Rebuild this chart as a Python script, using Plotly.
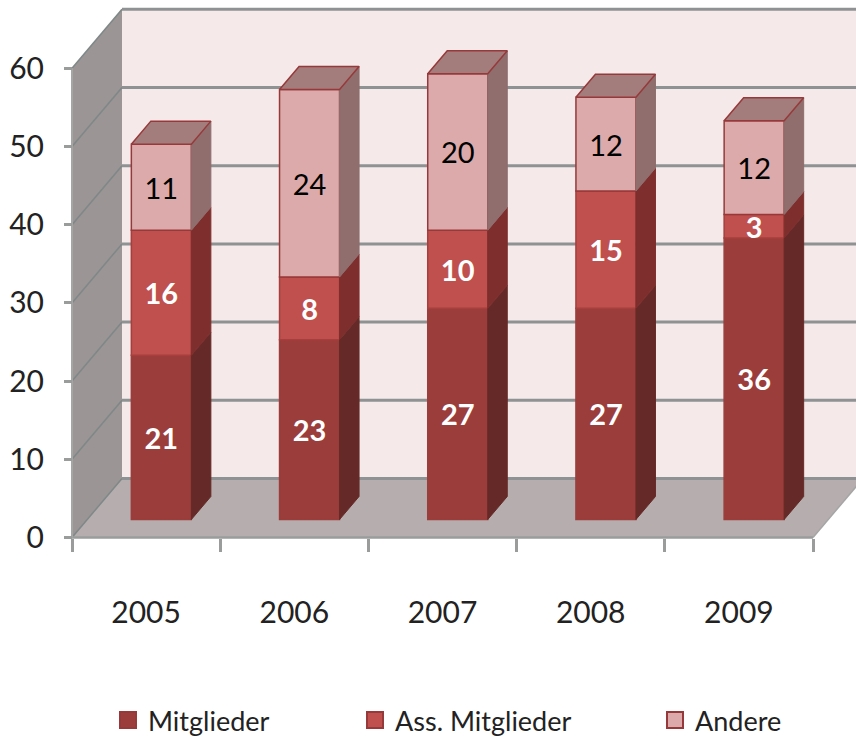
import plotly.graph_objects as go

years = ["2005", "2006", "2007", "2008", "2009"]
mitglieder = [21, 23, 27, 27, 36]
ass_mitglieder = [16, 8, 10, 15, 3]
andere = [11, 24, 20, 12, 12]
y_ticks = [0, 10, 20, 30, 40, 50, 60]

W, H = 856, 745
X0, Y0 = 72, 537.5      # pixel of the front origin
PX_X, PX_Y = 148.2, 7.82
DX, DY = 50 / PX_X, 59 / PX_Y   # full depth in data units
Z_FRONT, Z_BACK = 0.305, 0.695
BAR_W = 0.405
XMAX = len(years)
YMAX = 60
FONT = "Lato"


def proj(x, y, z):
    return x + z * DX, y + z * DY


def poly(points, fill, line=None, width=0, layer="below"):
    pts = [proj(*p) for p in points]
    path = "M" + "L".join(f"{a:.4f},{b:.4f}" for a, b in pts) + "Z"
    return dict(type="path", path=path, xref="x", yref="y", fillcolor=fill, layer=layer,
                line=dict(color=line or fill, width=width))


def seg(p, q, color, width):
    a, b = proj(*p), proj(*q)
    return dict(type="line", x0=a[0], y0=a[1], x1=b[0], y1=b[1], xref="x", yref="y",
                layer="below", line=dict(color=color, width=width))


far = XMAX + 1
shapes = [
    poly([(0, 0, 1), (far, 0, 1), (far, YMAX, 1), (0, YMAX, 1)], "#f5e9e9"),
    poly([(0, 0, 0), (0, 0, 1), (0, YMAX, 1), (0, YMAX, 0)], "#9b9595"),
    poly([(0, 0, 0), (XMAX, 0, 0), (XMAX, 0, 1), (far, 0, 1), (0, 0, 1)], "#b6aeae"),
]
for v in y_ticks:
    shapes.append(seg((0, v, 0), (0, v, 1), "#7f8787", 1.5))
    shapes.append(seg((0, v, 1), (far, v, 1), "#8f9292", 3))
shapes += [
    seg((0, 0, 0), (XMAX, 0, 0), "#9a9c9c", 2.5),
    seg((0, 0, 0), (0, YMAX, 0), "#a5a5a5", 2),
    seg((XMAX, 0, 0), (XMAX, 0, 1), "#a5a5a5", 1.5),
]

series = [
    ("Mitglieder", mitglieder, "#9b3d3b", "#652a27", "#9b3d3b", "white", "bold"),
    ("Ass. Mitglieder", ass_mitglieder, "#c0504d", "#7e2f2d", "#a63f3d", "white", "bold"),
    ("Andere", andere, "#dcaaaa", "#8f6e6d", "#97393a", "black", "normal"),
]

fig = go.Figure()
cum = [0] * len(years)
centers = [i + 0.5 for i in range(len(years))]
side_traces = []
for name, vals, face, side, edge, tcol, weight in series:
    base = [c + Z_FRONT * DY for c in cum]
    fig.add_trace(go.Bar(
        x=[c + Z_FRONT * DX for c in centers], y=vals, base=base, width=BAR_W,
        marker=dict(color=face, line=dict(color=edge, width=1.5)),
        text=[str(v) for v in vals], textposition="inside", insidetextanchor="middle",
        textangle=0, constraintext="none",
        textfont=dict(family=FONT, size=29, color=tcol, weight=weight),
        showlegend=False, hoverinfo="skip", name=name,
    ))
    xs, ys = [], []
    for c, lo, v in zip(centers, cum, vals):
        r = c + BAR_W / 2
        for p in [(r, lo, Z_FRONT), (r, lo, Z_BACK), (r, lo + v, Z_BACK), (r, lo + v, Z_FRONT), (r, lo, Z_FRONT)]:
            a, b = proj(*p)
            xs.append(a)
            ys.append(b)
        xs.append(None)
        ys.append(None)
    side_traces.append((xs, ys, side, edge))
    cum = [a + b for a, b in zip(cum, vals)]

for xs, ys, side, edge in side_traces:
    fig.add_trace(go.Scatter(x=xs, y=ys, mode="lines", fill="toself", fillcolor=side,
                             line=dict(color=side, width=1), showlegend=False, hoverinfo="skip"))

# top faces
xs, ys = [], []
for c, total in zip(centers, cum):
    l, r = c - BAR_W / 2, c + BAR_W / 2
    for p in [(l, total, Z_FRONT), (r, total, Z_FRONT), (r, total, Z_BACK), (l, total, Z_BACK), (l, total, Z_FRONT)]:
        a, b = proj(*p)
        xs.append(a)
        ys.append(b)
    xs.append(None)
    ys.append(None)
fig.add_trace(go.Scatter(x=xs, y=ys, mode="lines", fill="toself", fillcolor="#a37d7c",
                         line=dict(color="#97393a", width=1.5), showlegend=False, hoverinfo="skip"))

# legend entries
legend_x = [120, 367, 667]
for i, (name, vals, face, side, edge, tcol, weight) in enumerate(series):
    fig.add_trace(go.Scatter(x=[None], y=[None], mode="markers", name=name,
                             marker=dict(symbol="square", size=16, color=face, line=dict(color="#97393a", width=2)),
                             legend="legend" if i == 0 else f"legend{i + 1}"))

legend_common = dict(y=0.0, yanchor="bottom", xanchor="left", bgcolor="rgba(0,0,0,0)",
                     itemsizing="trace", font=dict(family=FONT, size=27, color="#222222"))
fig.update_layout(
    width=W, height=H, margin=dict(l=0, r=0, t=0, b=0), paper_bgcolor="white", plot_bgcolor="white",
    barmode="overlay", shapes=shapes, showlegend=True,
    legend=dict(x=(legend_x[0] - 12) / W, **legend_common),
    legend2=dict(x=(legend_x[1] - 12) / W, **legend_common),
    legend3=dict(x=(legend_x[2] - 12) / W, **legend_common),
    xaxis=dict(range=[-X0 / PX_X, (W - X0) / PX_X], anchor="free", position=(H - Y0) / H,
               showgrid=False, zeroline=False, showline=False,
               tickmode="array", tickvals=centers, ticktext=years, ticks="outside", ticklen=0,
               ticklabelstandoff=48, tickfont=dict(family=FONT, size=30, color="#222222"),
               minor=dict(tickvals=list(range(XMAX + 1)), ticks="outside", ticklen=13, tickwidth=2.5,
                          tickcolor="#9a9c9c", showgrid=False)),
    yaxis=dict(range=[-(H - Y0) / PX_Y, Y0 / PX_Y], anchor="free", position=X0 / W,
               showgrid=False, zeroline=False, showline=False,
               tickmode="array", tickvals=y_ticks, ticks="outside", ticklen=8, tickwidth=2.5,
               tickcolor="#9a9c9c", ticklabelstandoff=14,
               tickfont=dict(family=FONT, size=30, color="#222222")),
)
fig.write_html("out.html", post_script="document.body.style.margin='0';", config={"displayModeBar": False})
